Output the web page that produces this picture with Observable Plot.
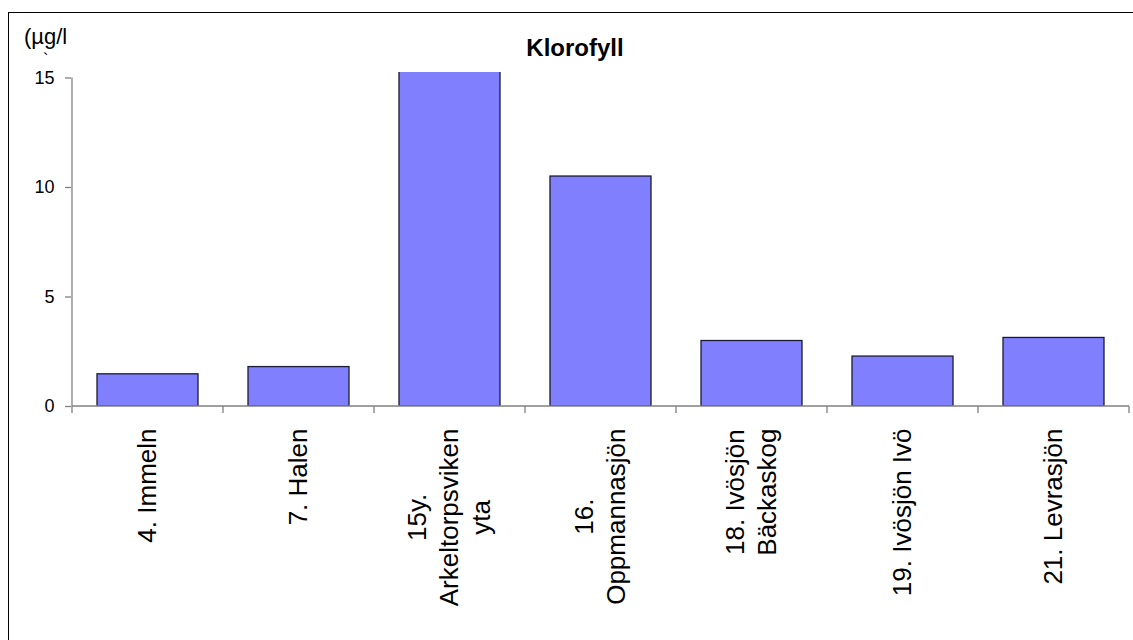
<!DOCTYPE html>
<html>
<head>
<meta charset="utf-8">
<script src="https://cdn.jsdelivr.net/npm/d3@7"></script>
<script src="https://cdn.jsdelivr.net/npm/@observablehq/plot@0.6"></script>
<style>
  html, body { margin: 0; padding: 0; background: #fff; }
  #wrap { position: relative; width: 1133px; height: 640px; overflow: hidden; font-family: "Liberation Sans", Arial, sans-serif; }
  #border { position: absolute; left: 8px; top: 12px; width: 2000px; height: 2000px; border-left: 1px solid #000; border-top: 1px solid #000; box-sizing: border-box; }
  #title { position: absolute; left: 0; width: 1150px; top: 35px; text-align: center; font-weight: bold; font-size: 24px; line-height: 26px; color: #000; }
  #ylabel { position: absolute; left: 24px; top: 24px; font-size: 22px; line-height: 26px; color: #000; }
  #grave { position: absolute; left: 43px; top: 55px; font-size: 16px; line-height: 10px; height: 10px; color: #000; }
  #chart { position: absolute; left: 0; top: 0; }
</style>
</head>
<body>
<div id="wrap">
  <div id="border"></div>
  <div id="chart"></div>
  <div id="title">Klorofyll</div>
  <div id="ylabel">(µg/l</div>
  <div id="grave">`</div>
</div>
<script>
const categories = [
  "4. Immeln",
  "7. Halen",
  "15y.\nArkeltorpsviken\nyta",
  "16.\nOppmannasjön",
  "18. Ivösjön\nBäckaskog",
  "19. Ivösjön Ivö",
  "21. Levrasjön"
];
const values = [1.47, 1.8, 16, 10.5, 2.99, 2.28, 3.13];
const yTicks = [0, 5, 10, 15];

const data = categories.map((c, i) => ({cat: c, value: values[i]}));

const labelFont = 26;
const lineStep = 32;
const ctx = document.createElement("canvas").getContext("2d");
ctx.font = `${labelFont}px 'Liberation Sans', Arial, sans-serif`;
const labelLen = (s) => d3.max(s.split("\n"), (l) => ctx.measureText(l).width);

function axesLines(index, scales, values_, dimensions) {
  const x = scales.x, y = scales.y;
  const bw = x.bandwidth();
  const g = d3.create("svg:g").attr("stroke", "#808080").attr("stroke-width", 1.3).attr("fill", "none");
  const x0 = x(categories[0]);
  const xEnd = x(categories[categories.length - 1]) + bw;
  g.append("line").attr("x1", x0).attr("x2", x0).attr("y1", y(yTicks[yTicks.length - 1])).attr("y2", y(0) + 7);
  g.append("line").attr("x1", x0).attr("x2", xEnd).attr("y1", y(0)).attr("y2", y(0));
  categories.forEach((c) => {
    const xb = x(c) + bw;
    g.append("line").attr("x1", xb).attr("x2", xb).attr("y1", y(0)).attr("y2", y(0) + 7);
  });
  return g.node();
}

// one text mark per label line: lines centred on each other, block top-aligned under the axis
const labelMarks = categories.flatMap((c) => {
  const lines = c.split("\n");
  const len = labelLen(c);
  return lines.map((line, i) =>
    Plot.text([{cat: c, line}], {x: "cat", y: () => 0, text: "line", rotate: -90, textAnchor: "middle",
      dy: 22 + len / 2, dx: (i - (lines.length - 1) / 2) * lineStep, fontSize: labelFont, fill: "#000"})
  );
});

const chart = Plot.plot({
  width: 1133,
  height: 640,
  marginLeft: 71,
  marginRight: 3,
  marginTop: 72,
  marginBottom: 234,
  style: {fontFamily: "'Liberation Sans', Arial, sans-serif", fontSize: "18px", background: "transparent", color: "#000", overflow: "visible"},
  x: {domain: categories, padding: 0, axis: null},
  y: {domain: [0, 15.25], axis: null},
  marks: [
    Plot.barY(data, {x: "cat", y: "value", fill: "#8080FF", stroke: "#1a1a33", strokeWidth: 1.3, insetLeft: 25, insetRight: 25, clip: true}),
    Plot.axisY({ticks: yTicks, tickSize: 6, tickPadding: 11, stroke: "#808080", strokeWidth: 1.3, fontSize: 18, label: null, tickFormat: d => d}),
    ...labelMarks,
    axesLines
  ]
});
document.getElementById("chart").appendChild(chart);
</script>
</body>
</html>
